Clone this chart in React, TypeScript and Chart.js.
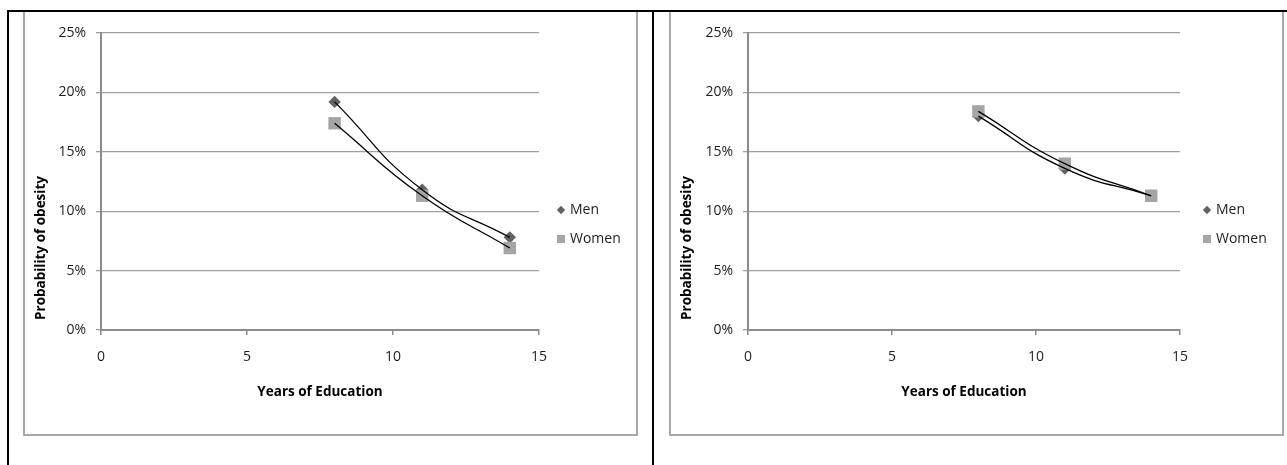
import React, { useEffect, useRef } from 'react';
import { Chart, registerables } from 'chart.js';

Chart.register(...registerables);

// ---- data ----
const years = [8, 11, 14];
const menLeft = [0.192, 0.118, 0.078];
const womenLeft = [0.174, 0.113, 0.069];
const menRight = [0.18, 0.136, 0.113];
const womenRight = [0.184, 0.14, 0.113];
const xTicks = [0, 5, 10, 15];
const yTicks = [0, 0.05, 0.1, 0.15, 0.2, 0.25];
const seriesNames = ['Men', 'Women'];
const xTitle = 'Years of Education';
const yTitle = 'Probability of obesity';

// ---- style ----
const FONT = "'Open Sans', 'DejaVu Sans', sans-serif";
const MEN_COLOR = '#636363';
const WOMEN_COLOR = '#a5a5a5';
const TEXT_COLOR = '#1e1e1e';
const CANVAS_W = 611;
const CANVAS_H = 422;

const annotatePlugin = {
  id: 'annotate',
  afterDraw(chart: any) {
    const { ctx } = chart;
    // rotated y-axis title
    ctx.save();
    ctx.font = `bold 13.5px ${FONT}`;
    ctx.fillStyle = '#000';
    ctx.textAlign = 'center';
    ctx.textBaseline = 'middle';
    ctx.translate(16, 236);
    ctx.rotate(-Math.PI / 2);
    ctx.fillText(yTitle, 0, 0);
    ctx.restore();

    // legend (in series order: Men, Women)
    const items = seriesNames
      .map((name) => chart.data.datasets.find((d: any) => d.isLegend && d.label === name))
      .filter(Boolean);
    const rows = [198, 227];
    ctx.save();
    items.forEach((d: any, i: number) => {
      const y = rows[i];
      const mx = 536;
      ctx.fillStyle = d.pointBackgroundColor;
      ctx.beginPath();
      if (d.pointStyle === 'rectRot') {
        const r = 4.2;
        ctx.moveTo(mx, y - r);
        ctx.lineTo(mx + r, y);
        ctx.lineTo(mx, y + r);
        ctx.lineTo(mx - r, y);
        ctx.closePath();
      } else {
        const h = 4;
        ctx.rect(mx - h, y - h, 2 * h, 2 * h);
      }
      ctx.fill();
      ctx.font = `14px ${FONT}`;
      ctx.fillStyle = TEXT_COLOR;
      ctx.textAlign = 'left';
      ctx.textBaseline = 'middle';
      ctx.fillText(d.label, 545, y + 0.5);
    });
    ctx.restore();
  },
};

function toPoints(vals: number[]) {
  return years.map((x, i) => ({ x, y: vals[i] }));
}

function ObesityChart({ men, women, rightPad, yWidth }: { men: number[]; women: number[]; rightPad: number; yWidth: number }) {
  const ref = useRef<HTMLCanvasElement | null>(null);
  useEffect(() => {
    if (!ref.current) return;
    const trend = (vals: number[], label: string) => ({
      label,
      data: toPoints(vals),
      showLine: true,
      borderColor: '#000',
      borderWidth: 1.3,
      pointRadius: 0,
      tension: 0.5,
      fill: false,
    });
    const chart = new Chart(ref.current, {
      type: 'scatter',
      data: {
        datasets: [
          trend(men, 'men-trend') as any,
          trend(women, 'women-trend') as any,
          {
            label: seriesNames[1],
            isLegend: true,
            data: toPoints(women),
            pointStyle: 'rect',
            pointRadius: 8.8,
            pointBackgroundColor: WOMEN_COLOR,
            pointBorderWidth: 0,
            pointBorderColor: WOMEN_COLOR,
            showLine: false,
          } as any,
          {
            label: seriesNames[0],
            isLegend: true,
            data: toPoints(men),
            pointStyle: 'rectRot',
            pointRadius: 6.2,
            pointBackgroundColor: MEN_COLOR,
            pointBorderWidth: 0,
            pointBorderColor: MEN_COLOR,
            showLine: false,
          } as any,
        ],
      },
      options: {
        responsive: false,
        animation: false,
        devicePixelRatio: 1,
        layout: { padding: { top: 21, right: rightPad, left: 0, bottom: 0 } },
        plugins: {
          legend: { display: false },
          tooltip: { enabled: false },
        },
        scales: {
          x: {
            type: 'linear',
            min: 0,
            max: 15,
            afterBuildTicks: (s: any) => {
              s.ticks = xTicks.map((v) => ({ value: v }));
            },
            afterFit: (s: any) => {
              s.height = 104;
            },
            ticks: {
              font: { family: FONT, size: 14 },
              color: TEXT_COLOR,
              padding: 14,
              maxRotation: 0,
              callback: (v: any) => String(v),
            },
            grid: {
              drawOnChartArea: false,
              drawTicks: true,
              tickLength: 5,
              color: '#8c8c8c',
              lineWidth: 1.5,
            },
            border: { display: true, color: '#8c8c8c', width: 2 },
            title: {
              display: true,
              text: xTitle,
              color: '#000',
              font: { family: FONT, size: 13.5, weight: 'bold' },
              padding: { top: 0, bottom: 34 },
            },
          },
          y: {
            type: 'linear',
            min: 0,
            max: 0.25,
            afterBuildTicks: (s: any) => {
              s.ticks = yTicks.map((v) => ({ value: v }));
            },
            afterFit: (s: any) => {
              s.width = yWidth;
            },
            ticks: {
              font: { family: FONT, size: 14 },
              color: TEXT_COLOR,
              padding: 10,
              callback: (v: any) => Math.round(Number(v) * 100) + '%',
            },
            grid: {
              drawOnChartArea: true,
              drawTicks: true,
              tickLength: 5,
              color: '#a0a0a0',
              lineWidth: 1.3,
            },
            border: { display: true, color: '#8c8c8c', width: 2 },
          },
        },
      } as any,
      plugins: [annotatePlugin],
    });
    return () => chart.destroy();
  }, [men, women, rightPad, yWidth]);
  return (
    <canvas
      ref={ref}
      width={CANVAS_W}
      height={CANVAS_H}
      style={{ width: CANVAS_W, height: CANVAS_H, display: 'block' }}
    />
  );
}

const boxStyle = (left: number): React.CSSProperties => ({
  position: 'absolute',
  left,
  top: 10,
  width: 615,
  height: 426,
  boxSizing: 'border-box',
  border: '2px solid #a8a8a8',
  background: '#fff',
});

const black = (left: number, top: number, width: number, height: number): React.CSSProperties => ({
  position: 'absolute',
  left,
  top,
  width,
  height,
  background: '#000',
  zIndex: 2,
});

export default function App() {
  return (
    <div
      style={{
        position: 'absolute',
        left: 0,
        top: 0,
        width: 1287,
        height: 465,
        overflow: 'hidden',
        background: '#fff',
      }}
    >
      <div style={boxStyle(23)}>
        <ObesityChart men={menLeft} women={womenLeft} rightPad={97} yWidth={76} />
      </div>
      <div style={boxStyle(669)}>
        <ObesityChart men={menRight} women={womenRight} rightPad={102} yWidth={77} />
      </div>
      <div style={black(7, 10, 1280, 2)} />
      <div style={black(7, 10, 2, 455)} />
      <div style={black(652, 10, 2, 455)} />
    </div>
  );
}
